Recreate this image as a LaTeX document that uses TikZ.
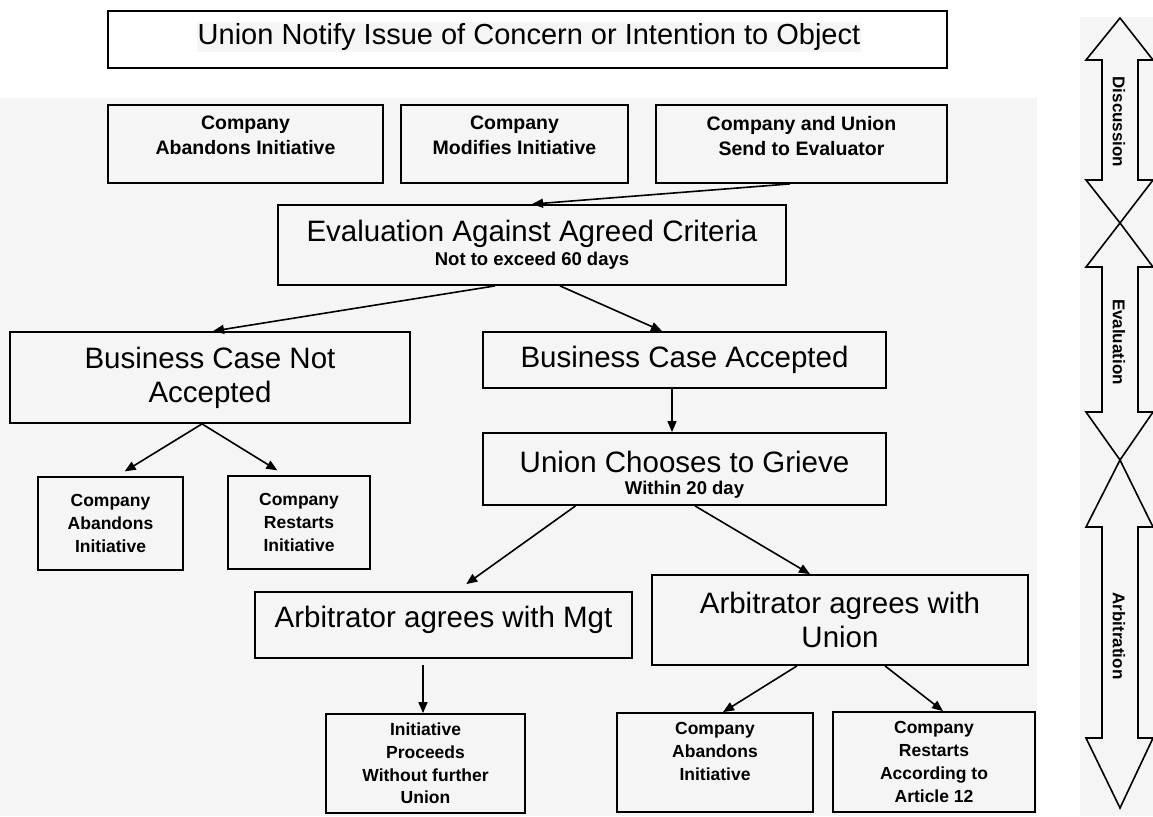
\documentclass[tikz,border=0pt]{standalone}
\usepackage{fontspec}
\setmainfont{Liberation Sans}
\usetikzlibrary{arrows.meta}
\definecolor{bg}{RGB}{245,245,245}
\begin{document}
\begin{tikzpicture}[x=1pt,y=-1pt,
  box/.style={draw,line width=1.8pt,inner sep=0pt,align=center,fill=bg},
  big/.style={font=\fontsize{29.5}{34}\selectfont},
  small/.style={font=\fontsize{17.5}{22.7}\selectfont\bfseries},
  topsmall/.style={font=\fontsize{19.5}{25}\selectfont\bfseries},
  subt/.style={font=\fontsize{18.5}{22}\selectfont\bfseries,inner sep=0pt},
  bigt/.style={font=\fontsize{29.5}{34}\selectfont,inner sep=0pt},
  arr/.style={line width=1.6pt,-{Triangle[length=11pt,width=9pt]}},
  strip/.style={draw,line width=1.6pt,fill=bg,line join=miter},
  striptext/.style={font=\fontsize{17}{20}\selectfont\bfseries,rotate=-90,inner sep=0pt}
]
\useasboundingbox (0,0) rectangle (1153,816);
\fill[white] (0,0) rectangle (1153,816);
\fill[bg] (0,98) rectangle (1037,816);
\fill[bg] (1080,17) rectangle (1153,816);

% title
\node[draw,line width=1.8pt,minimum width=839pt,minimum height=57pt,fill=white] (title) at (527.5,39.5) {};
\node[fill=bg,inner sep=1pt,font=\fontsize{29}{32}\selectfont] (titletext) at (529,37) {Union Notify Issue of Concern or Intention to Object};

% top row
\node[box,topsmall,minimum width=275pt,minimum height=78pt,text depth=17pt] (top1) at (245.5,144) {Company\\Abandons Initiative};
\node[box,topsmall,minimum width=227pt,minimum height=78pt,text depth=17pt] (top2) at (514.5,144) {Company\\Modifies Initiative};
\node[box,topsmall,minimum width=291pt,minimum height=78pt,text depth=17pt] (top3) at (801.5,144) {Company and Union\\Send to Evaluator};

% evaluation
\node[box,minimum width=508pt,minimum height=80pt] (eval) at (532,245) {};
\node[bigt] (evaltitle) at (532,234) {Evaluation Against Agreed Criteria};
\node[subt] (evalsub) at (532,261) {Not to exceed 60 days};

% business case
\node[box,big,minimum width=400pt,minimum height=91pt] (bcna) at (210,377.5) {Business Case Not\\Accepted};
\node[box,big,minimum width=403pt,minimum height=56pt] (bca) at (684.5,360) {Business Case Accepted};

\node[box,small,minimum width=145pt,minimum height=93pt] (cab1) at (110.5,523.5) {Company\\Abandons\\Initiative};
\node[box,small,minimum width=142pt,minimum height=93pt] (cr1) at (299,522.5) {Company\\Restarts\\Initiative};

% grieve
\node[box,minimum width=403pt,minimum height=72pt] (ucg) at (684.5,469) {};
\node[bigt] (ucgtitle) at (684.5,462) {Union Chooses to Grieve};
\node[subt] (ucgsub) at (684.5,490) {Within 20 day};

% arbitrator
\node[box,big,minimum width=377pt,minimum height=66pt,text depth=17pt] (am) at (443.5,625) {Arbitrator agrees with Mgt};
\node[box,big,minimum width=376pt,minimum height=90pt] (au) at (840,620) {Arbitrator agrees with\\Union};

% bottom row
\node[box,small,minimum width=199pt,minimum height=99pt] (ip) at (425.5,763.5) {Initiative\\Proceeds\\Without further\\Union};
\node[box,small,minimum width=196pt,minimum height=99pt,text depth=22pt] (cab2) at (715,762.5) {Company\\Abandons\\Initiative};
\node[box,small,minimum width=202pt,minimum height=100pt] (cr2) at (934,762) {Company\\Restarts\\According to\\Article 12};

% connectors
\draw[arr] ([xshift=-11.5pt]top3.south) -- (eval.north);
\draw[arr] ([xshift=-37pt]eval.south) -- ([xshift=3pt]bcna.north);
\draw[arr] ([xshift=28pt]eval.south) -- ([xshift=-22.5pt]bca.north);
\draw[arr] ([xshift=-12.5pt]bca.south) -- ([xshift=-12.5pt]ucg.north);
\draw[arr,shorten >=9pt] ([xshift=-8pt]bcna.south) -- ([xshift=6.5pt]cab1.north);
\draw[arr,shorten >=9pt] ([xshift=-8pt]bcna.south) -- ([xshift=-14pt]cr1.north);
\draw[arr,shorten >=12pt] ([xshift=-109pt]ucg.south) -- ([xshift=13pt]am.north);
\draw[arr] ([xshift=10.5pt]ucg.south) -- ([xshift=-30pt]au.north);
\draw[arr] ([xshift=-20.5pt,yshift=-6pt]am.south) -- ([xshift=-2.5pt]ip.north);
\draw[arr] ([xshift=-43pt]au.south) -- ([xshift=8pt]cab2.north);
\draw[arr] ([xshift=45pt]au.south) -- ([xshift=9pt]cr2.north);

% phase strip
\draw[strip] (1120,18) -- (1153,60) -- (1138,60) -- (1138,180) -- (1153,180) -- (1120,223)
  -- (1086,180) -- (1102,180) -- (1102,60) -- (1086,60) -- cycle;
\draw[strip] (1120,223) -- (1153,267) -- (1138,267) -- (1138,412) -- (1153,412) -- (1120,460)
  -- (1086,412) -- (1102,412) -- (1102,267) -- (1086,267) -- cycle;
\draw[strip] (1120,460) -- (1153,527) -- (1138,527) -- (1138,738) -- (1153,738) -- (1120,808)
  -- (1086,738) -- (1102,738) -- (1102,527) -- (1086,527) -- cycle;
\node[striptext] (disc) at (1119,122) {Discussion};
\node[striptext] (evl) at (1119,342) {Evaluation};
\node[striptext] (arb) at (1119,636) {Arbitration};
\end{tikzpicture}
\end{document}
